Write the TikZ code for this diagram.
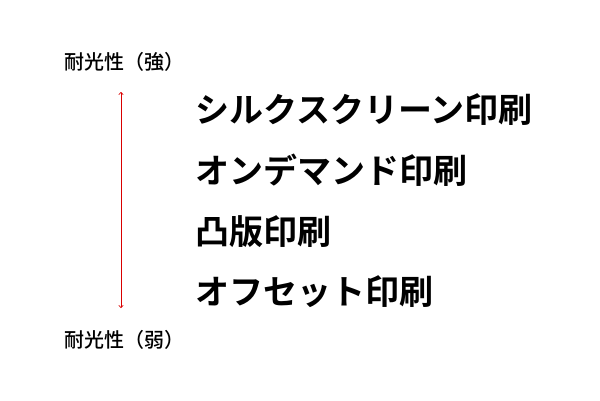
\documentclass[tikz,border=0pt]{standalone}
\usepackage{fontspec}
\setmainfont{Noto Sans CJK JP}
\newfontfamily\jpb{Noto Sans CJK JP Bold}
\newfontfamily\jpm{Noto Sans CJK JP Medium}
\usetikzlibrary{arrows.meta}
\begin{document}
\begin{tikzpicture}[x=1pt,y=-1pt,
  small/.style={font=\jpm\fontsize{20}{22}\selectfont, inner sep=0pt},
  big/.style={font=\jpb\fontsize{34}{38}\selectfont, anchor=west, inner sep=0pt},
  scale arrow/.style={draw=red!85!black, line width=0.6pt, {To[length=3pt,width=5pt]}-{To[length=3pt,width=5pt]}}]
\useasboundingbox (0,0) rectangle (600,400);
\node[small] (strong) at (124,62) {耐光性（強）};
\node[small] (weak) at (124,340) {耐光性（弱）};
\coordinate (top) at (121,92);
\coordinate (bot) at (121,308);
\draw[scale arrow] (top) -- (bot);
\node[big] (l1) at (195,110) {シルクスクリーン印刷};
\node[big] (l2) at (195,170) {オンデマンド印刷};
\node[big] (l3) at (195,232) {凸版印刷};
\node[big] (l4) at (195,292) {オフセット印刷};
\end{tikzpicture}
\end{document}
